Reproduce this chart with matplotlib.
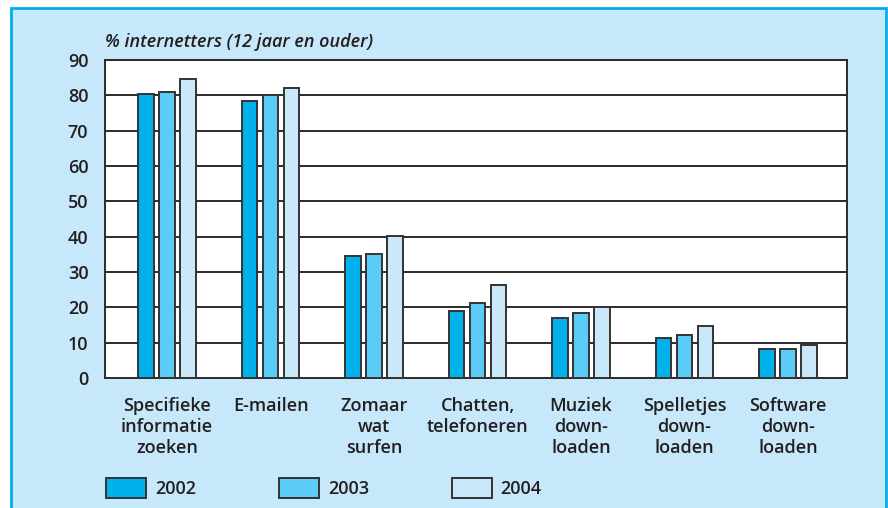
import matplotlib.pyplot as plt
from matplotlib.patches import Rectangle
import numpy as np

# data
categories = ["Specifieke\ninformatie\nzoeken", "E-mailen", "Zomaar\nwat\nsurfen",
              "Chatten,\ntelefoneren", "Muziek\ndown-\nloaden", "Spelletjes\ndown-\nloaden",
              "Software\ndown-\nloaden"]
years = ["2002", "2003", "2004"]
v2002 = [80.5, 78.3, 34.4, 19.0, 17.1, 11.4, 8.3]
v2003 = [81.0, 80.0, 35.2, 21.1, 18.5, 12.3, 8.3]
v2004 = [84.7, 82.0, 40.1, 26.4, 20.2, 14.8, 9.2]

colors = ["#00B1EC", "#5BCCF6", "#C9E9FA"]
panel = "#C7E8FA"
edge = "#333333"
textc = "#231F20"
fs = 13

plt.rcParams['font.family'] = ['Open Sans', 'DejaVu Sans']

fig = plt.figure(figsize=(8.88, 5.08), dpi=100, facecolor="white")
fig.patches.append(Rectangle((11/888, -0.02), 875/888, 1.02 - 8/508, transform=fig.transFigure,
                             facecolor=panel, edgecolor="#00AEEF", lw=2, zorder=-5))

ax = fig.add_axes([105/888, 1 - 378/508, 742/888, 318/508])
ax.set_zorder(2)
ax.set_facecolor("white")

x = np.arange(len(categories))
w = 0.15
step = 0.203
for k, (vals, lab) in enumerate(zip([v2002, v2003, v2004], years)):
    ax.bar(x + (k - 1) * step, vals, width=w, color=colors[k], edgecolor=edge,
           linewidth=1.4, label=lab, zorder=3)

ax.set_ylim(0, 90)
ax.set_xlim(-0.6, 6.57)
ax.set_yticks(range(0, 91, 10))
ax.yaxis.grid(True, color="#2b2b2b", lw=1.4, zorder=0)
ax.set_axisbelow(True)
for s in ax.spines.values():
    s.set_color("#2b2b2b")
    s.set_linewidth(1.4)
ax.set_xticks(x)
ax.set_xticklabels(categories, fontsize=fs, color=textc, linespacing=1.2, fontweight=600)
ax.tick_params(axis="x", length=0, pad=14)
ax.tick_params(axis="y", length=0, pad=12, labelsize=fs, labelcolor=textc)
for t in ax.get_yticklabels():
    t.set_fontweight(600)

fig.text(105/888, 1 - 42/508, "% internetters (12 jaar en ouder)", style="italic",
         fontsize=fs, color=textc, va="center", ha="left", fontweight=600)

leg = fig.legend(loc="center left", bbox_to_anchor=(90/888, 1 - 488/508), ncol=3,
                 frameon=False, handlelength=2.2, handleheight=1.3,
                 columnspacing=4.6, handletextpad=0.5, labelcolor=textc,
                 prop={"size": fs, "weight": 600})

fig.savefig("out.png", dpi=100, facecolor="white")
